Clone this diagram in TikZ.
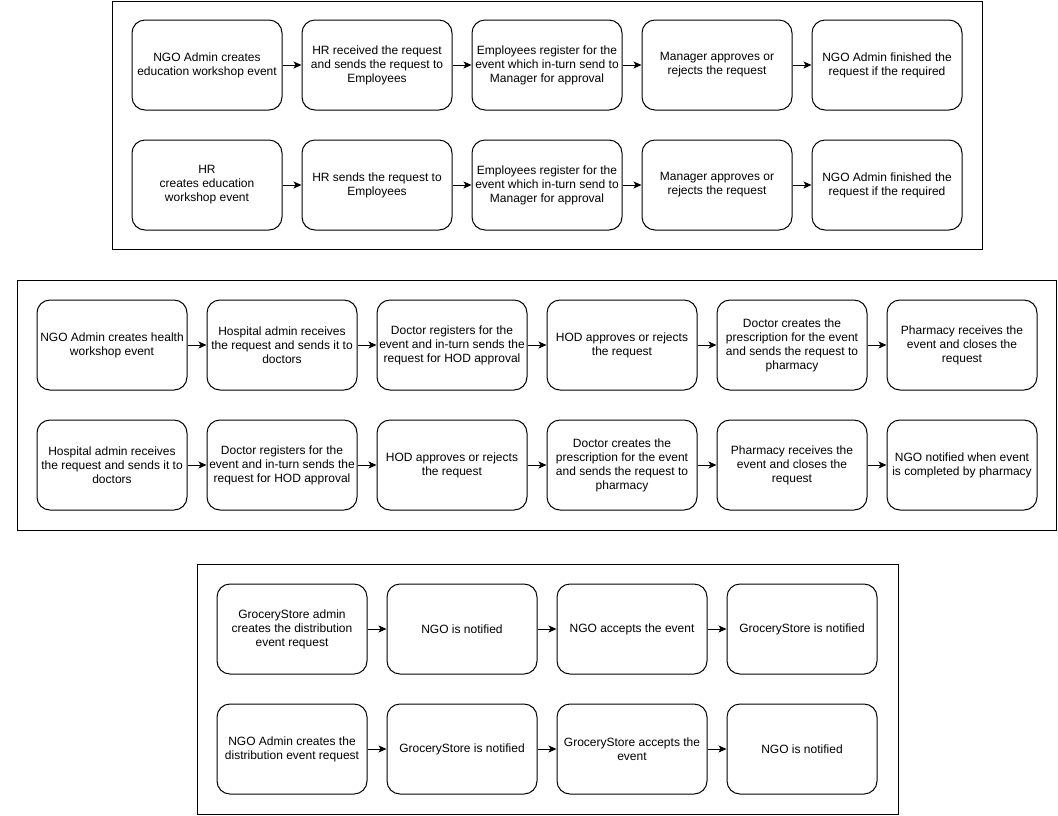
\documentclass[tikz,border=0pt]{standalone}
\usepackage{fontspec}
\setmainfont{Liberation Sans}
\usetikzlibrary{arrows.meta}
\begin{document}
\begin{tikzpicture}[x=1pt,y=-1pt,
  stepbox/.style={draw=black,line width=1pt,rounded corners=13pt,
    minimum width=150pt,minimum height=90pt,inner sep=2pt,
    align=center,font=\fontsize{12pt}{14pt}\selectfont},
  frame/.style={draw=black,line width=1pt},
  flow/.style={draw=black,line width=1pt,-{Stealth[length=8pt,width=7pt,inset=2pt]}}]
\useasboundingbox (0,0) rectangle (1058,815);

% group frames
\draw[frame] (112,1) rectangle (982,249);
\draw[frame] (17,280) rectangle (1056,530);
\draw[frame] (197,564) rectangle (898,814);

% education workshop, first flow
\node[stepbox] (e1) at (207,65) {NGO Admin creates\\education workshop event};
\node[stepbox] (e2) at (377,65) {HR received the request\\and sends the request to\\Employees};
\node[stepbox] (e3) at (547,65) {Employees register for the\\event which in-turn send to\\Manager for approval};
\node[stepbox] (e4) at (717,65) {Manager approves or\\rejects the request};
\node[stepbox] (e5) at (887,65) {NGO Admin finished the\\request if the required};
% education workshop, second flow
\node[stepbox] (f1) at (207,185) {HR\\creates education\\workshop event};
\node[stepbox] (f2) at (377,185) {HR sends the request to\\Employees};
\node[stepbox] (f3) at (547,185) {Employees register for the\\event which in-turn send to\\Manager for approval};
\node[stepbox] (f4) at (717,185) {Manager approves or\\rejects the request};
\node[stepbox] (f5) at (887,185) {NGO Admin finished the\\request if the required};

% health workshop, first flow
\node[stepbox] (h1) at (112,345) {NGO Admin creates health\\workshop event};
\node[stepbox] (h2) at (282,345) {Hospital admin receives\\the request and sends it to\\doctors};
\node[stepbox] (h3) at (452,345) {Doctor registers for the\\event and in-turn sends the\\request for HOD approval};
\node[stepbox] (h4) at (622,345) {HOD approves or rejects\\the request};
\node[stepbox] (h5) at (792,345) {Doctor creates the\\prescription for the event\\and sends the request to\\pharmacy};
\node[stepbox] (h6) at (962,345) {Pharmacy receives the\\event and closes the\\request};
% health workshop, second flow
\node[stepbox] (k1) at (112,465) {Hospital admin receives\\the request and sends it to\\doctors};
\node[stepbox] (k2) at (282,465) {Doctor registers for the\\event and in-turn sends the\\request for HOD approval};
\node[stepbox] (k3) at (452,465) {HOD approves or rejects\\the request};
\node[stepbox] (k4) at (622,465) {Doctor creates the\\prescription for the event\\and sends the request to\\pharmacy};
\node[stepbox] (k5) at (792,465) {Pharmacy receives the\\event and closes the\\request};
\node[stepbox] (k6) at (962,465) {NGO notified when event\\is completed by pharmacy};

% distribution event, first flow
\node[stepbox] (g1) at (292,629) {GroceryStore admin\\creates the distribution\\event request};
\node[stepbox] (g2) at (462,629) {NGO is notified};
\node[stepbox] (g3) at (632,629) {NGO accepts the event};
\node[stepbox] (g4) at (802,629) {GroceryStore is notified};
% distribution event, second flow
\node[stepbox] (n1) at (292,749) {NGO Admin creates the\\distribution event request};
\node[stepbox] (n2) at (462,749) {GroceryStore is notified};
\node[stepbox] (n3) at (632,749) {GroceryStore accepts the\\event};
\node[stepbox] (n4) at (802,749) {NGO is notified};

% connectors
\foreach \a/\b in {e1/e2,e2/e3,e3/e4,e4/e5,f1/f2,f2/f3,f3/f4,f4/f5,
                   h1/h2,h2/h3,h3/h4,h4/h5,h5/h6,k1/k2,k2/k3,k3/k4,k4/k5,k5/k6,
                   g1/g2,g2/g3,g3/g4,n1/n2,n2/n3,n3/n4}
  \draw[flow] (\a.east) -- (\b.west);
\end{tikzpicture}
\end{document}
